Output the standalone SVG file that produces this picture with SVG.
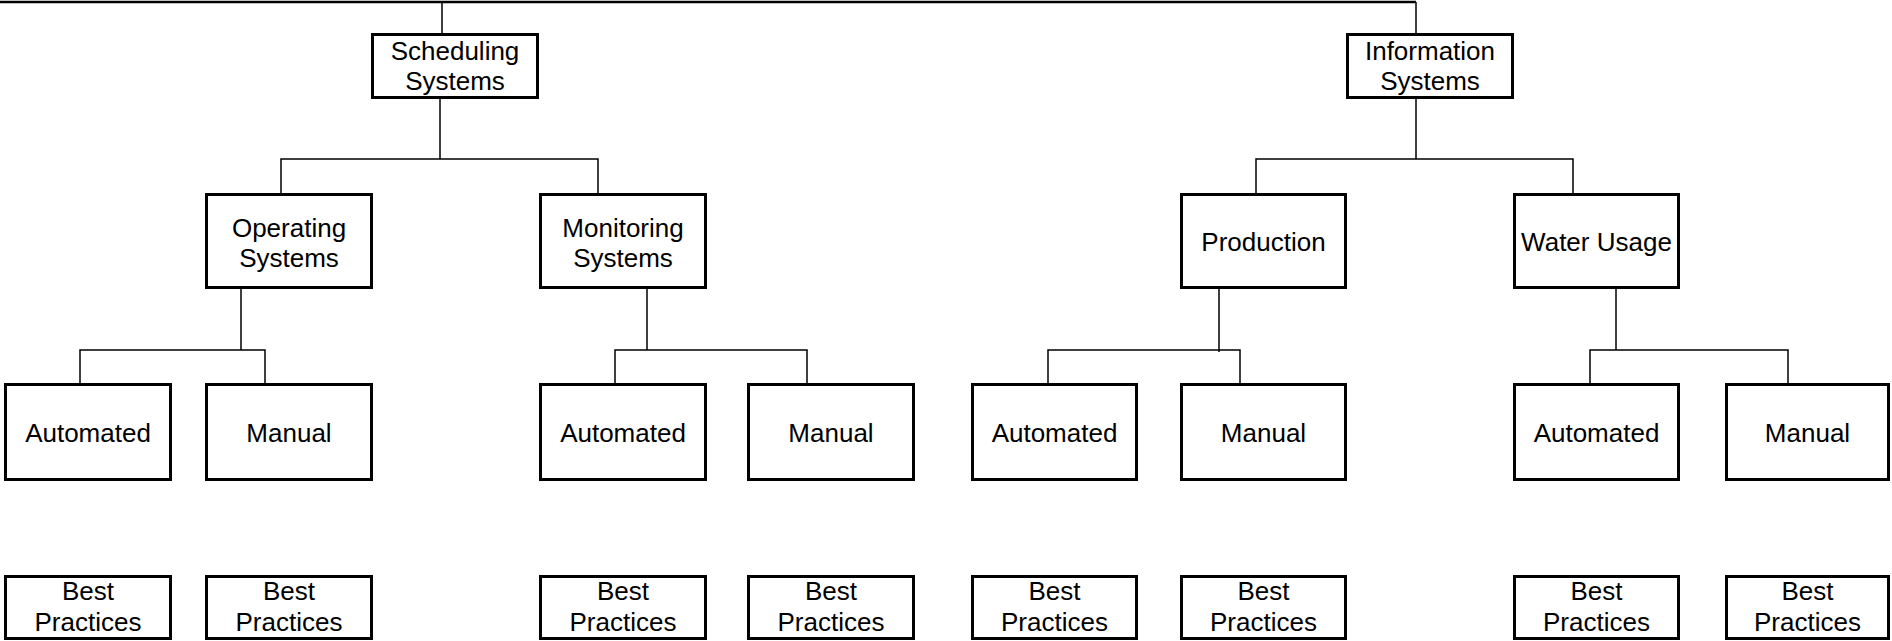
<svg xmlns="http://www.w3.org/2000/svg" width="1892" height="641" viewBox="0 0 1892 641">
<style>
  .box rect { fill: #fff; stroke: #000; stroke-width: 3; }
  .box text { font-family: "Liberation Sans", Arial, sans-serif; font-size: 26px; fill: #000; text-anchor: middle; }
  #connectors path { fill: none; stroke: #000; stroke-width: 1.5; }
</style>
<rect width="1892" height="641" fill="#fff"/>
<g id="connectors">
  <path d="M0 2 H1416" style="stroke-width:2.5"/>
  <path d="M442 2 V34 M1416 2 V34"/>
  <path d="M440 99 V159 M281 193 V159 H598 V193"/>
  <path d="M1416 99 V159 M1256 193 V159 H1573 V193"/>
  <path d="M241 289 V350 M80 384 V350 H265 V384"/>
  <path d="M647 289 V350 M615 384 V350 H807 V384"/>
  <path d="M1219 289 V352 M1048 384 V350 H1240 V384"/>
  <path d="M1616 289 V350 M1590 384 V350 H1788 V384"/>
</g>
<g id="scheduling" class="box"><rect x="372.5" y="34.5" width="165" height="63"/><text x="455" y="60">Scheduling</text><text x="455" y="90">Systems</text></g>
<g id="information" class="box"><rect x="1347.5" y="34.5" width="165" height="63"/><text x="1430" y="60">Information</text><text x="1430" y="90">Systems</text></g>
<g id="operating" class="box"><rect x="206.5" y="194.5" width="165" height="93"/><text x="289" y="237">Operating</text><text x="289" y="267">Systems</text></g>
<g id="monitoring" class="box"><rect x="540.5" y="194.5" width="165" height="93"/><text x="623" y="237">Monitoring</text><text x="623" y="267">Systems</text></g>
<g id="production" class="box"><rect x="1181.5" y="194.5" width="164" height="93"/><text x="1263.5" y="251">Production</text></g>
<g id="water-usage" class="box"><rect x="1514.5" y="194.5" width="164" height="93"/><text x="1596.5" y="251">Water Usage</text></g>
<g id="op-automated" class="box"><rect x="5.5" y="384.5" width="165" height="95"/><text x="88" y="442">Automated</text></g>
<g id="op-manual" class="box"><rect x="206.5" y="384.5" width="165" height="95"/><text x="289" y="442">Manual</text></g>
<g id="mon-automated" class="box"><rect x="540.5" y="384.5" width="165" height="95"/><text x="623" y="442">Automated</text></g>
<g id="mon-manual" class="box"><rect x="748.5" y="384.5" width="165" height="95"/><text x="831" y="442">Manual</text></g>
<g id="prod-automated" class="box"><rect x="972.5" y="384.5" width="164" height="95"/><text x="1054.5" y="442">Automated</text></g>
<g id="prod-manual" class="box"><rect x="1181.5" y="384.5" width="164" height="95"/><text x="1263.5" y="442">Manual</text></g>
<g id="wu-automated" class="box"><rect x="1514.5" y="384.5" width="164" height="95"/><text x="1596.5" y="442">Automated</text></g>
<g id="wu-manual" class="box"><rect x="1726.5" y="384.5" width="162" height="95"/><text x="1807.5" y="442">Manual</text></g>
<g id="bp-1" class="box"><rect x="5.5" y="576.5" width="165" height="62"/><text x="88" y="600">Best</text><text x="88" y="631">Practices</text></g>
<g id="bp-2" class="box"><rect x="206.5" y="576.5" width="165" height="62"/><text x="289" y="600">Best</text><text x="289" y="631">Practices</text></g>
<g id="bp-3" class="box"><rect x="540.5" y="576.5" width="165" height="62"/><text x="623" y="600">Best</text><text x="623" y="631">Practices</text></g>
<g id="bp-4" class="box"><rect x="748.5" y="576.5" width="165" height="62"/><text x="831" y="600">Best</text><text x="831" y="631">Practices</text></g>
<g id="bp-5" class="box"><rect x="972.5" y="576.5" width="164" height="62"/><text x="1054.5" y="600">Best</text><text x="1054.5" y="631">Practices</text></g>
<g id="bp-6" class="box"><rect x="1181.5" y="576.5" width="164" height="62"/><text x="1263.5" y="600">Best</text><text x="1263.5" y="631">Practices</text></g>
<g id="bp-7" class="box"><rect x="1514.5" y="576.5" width="164" height="62"/><text x="1596.5" y="600">Best</text><text x="1596.5" y="631">Practices</text></g>
<g id="bp-8" class="box"><rect x="1726.5" y="576.5" width="162" height="62"/><text x="1807.5" y="600">Best</text><text x="1807.5" y="631">Practices</text></g>
</svg>
